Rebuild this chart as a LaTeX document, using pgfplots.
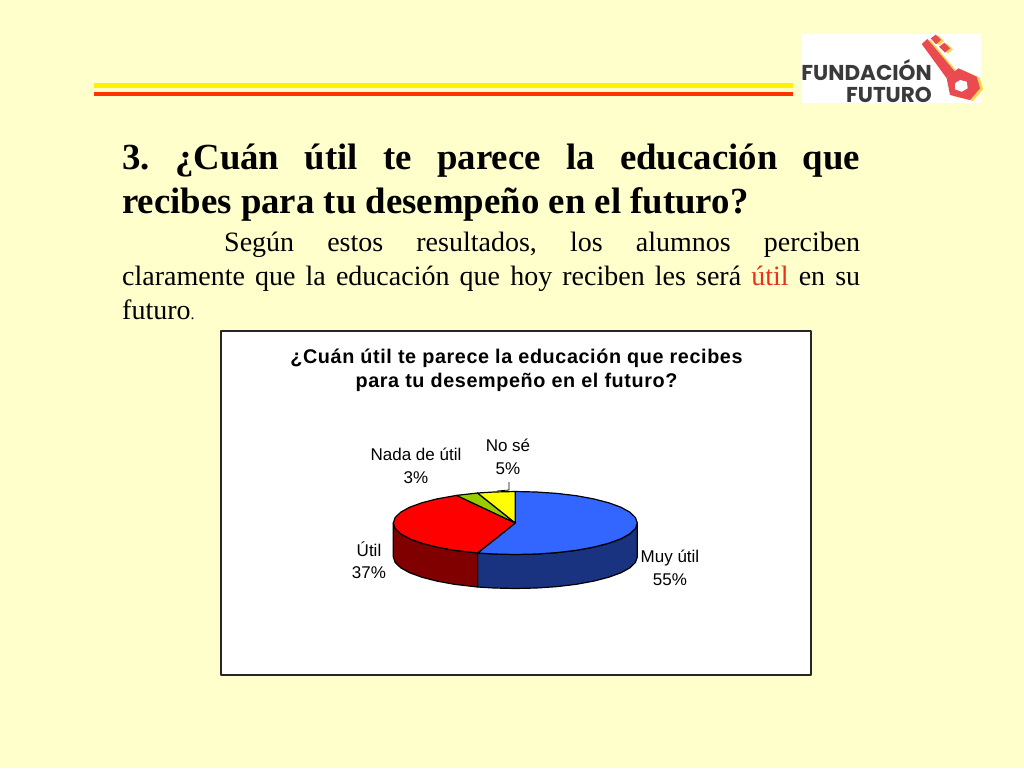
\documentclass[border=0pt]{standalone}
\usepackage{pgfplots}
\pgfplotsset{compat=1.18}
\usepackage{fontspec}
\setmainfont{Liberation Serif}
\newfontfamily\chartfont{Liberation Sans}
\newfontfamily\titlefont[LetterSpace=3]{Liberation Sans}
\newfontfamily\logofont{Poppins}
\definecolor{slidebg}{HTML}{FFFFCC}
\definecolor{muyutil}{HTML}{3366FF}
\definecolor{muyutilside}{HTML}{1A3380}
\definecolor{util}{HTML}{FF0000}
\definecolor{utilside}{HTML}{800000}
\definecolor{nada}{HTML}{99CC00}
\definecolor{nose}{HTML}{FFFF00}
\definecolor{keyred}{HTML}{E94B50}
\definecolor{keyyellow}{HTML}{FFD54A}
\definecolor{logogrey}{HTML}{3A3A3A}
\definecolor{accent}{HTML}{E8301C}
\frenchspacing
\begin{document}
\begin{tikzpicture}
\begin{axis}[
  scale only axis, width=1024pt, height=768pt,
  xmin=0, xmax=1024, ymin=0, ymax=768, y dir=reverse,
  hide axis, no markers, clip=true,
  every axis plot/.append style={forget plot, line join=round},
  pie/.style={draw=black, line width=1.2pt},
  flat/.style={draw=none},
]
% slide background, rules, logo box
\addplot[flat, fill=slidebg] coordinates {(0,0)(1024,0)(1024,768)(0,768)} --cycle;
\addplot[flat, fill=yellow] coordinates {(94,83.3)(793,83.3)(793,87.5)(94,87.5)} --cycle;
\addplot[flat, fill=red!80!yellow] coordinates {(94,91.7)(793,91.7)(793,96)(94,96)} --cycle;
\addplot[flat, fill=white] coordinates {(802,34)(981,34)(981,103)(802,103)} --cycle;

% key
\addplot[flat, fill=keyyellow] coordinates {(924.7,45)(930.3,40)(958,72.7)(949.7,79.3)} --cycle;
\addplot[flat, fill=keyyellow] coordinates {(933.7,39.3)(938.7,35.7)(944,41)(939,45.3)} --cycle;
\addplot[flat, fill=keyyellow] coordinates {(942,47.7)(947.3,43.7)(953,49.3)(948,53.7)} --cycle;
\addplot[flat, fill=keyyellow] coordinates {(949.7,79.3)(961.3,69.3)(979.7,77.7)(983,89.3)(973,101)(953,96)} --cycle;
\addplot[flat, fill=keyred] coordinates {(921.7,44)(927.3,39)(955,71.7)(946.7,78.3)} --cycle;
\addplot[flat, fill=keyred] coordinates {(930.7,38.3)(935.7,34.7)(941,40)(936,44.3)} --cycle;
\addplot[flat, fill=keyred] coordinates {(939,46.7)(944.3,42.7)(950,48.3)(945,52.7)} --cycle;
\addplot[flat, fill=keyred] coordinates {(946.7,78.3)(958.3,68.3)(976.7,76.7)(980,88.3)(970,100)(950,95)} --cycle;
\addplot[flat, fill=white] coordinates {(960,80)(966.7,81.7)(967.7,88.3)(961.7,91.7)(955,89.3)(955,83.3)} --cycle;

% chart frame
\addplot[draw=black!85, line width=1.6pt, fill=white] coordinates {(221,331)(811,331)(811,675)(221,675)} --cycle;

% pie sides
\addplot[pie, fill=muyutilside] coordinates {
  (637.3,523)(635.4,528.5)(629.9,533.8)(621,538.75)(608.8,543.2)(593.7,547.1)
  (576.3,550.3)(557,552.6)(536.5,554)(515.3,554.5)(494.1,554)(477.6,553)
  (477.6,587)(494.1,588)(515.3,588.5)(536.5,588)(557,586.6)(576.3,584.3)
  (593.7,581.1)(608.8,577.2)(621,572.75)(629.9,567.8)(635.4,562.5)(637.3,557)
} --cycle;
\addplot[pie, fill=utilside] coordinates {
  (477.6,553)(454.3,550.3)(436.9,547.1)(421.8,543.2)(409.6,538.75)(400.7,533.8)
  (395.2,528.5)(393.3,523)(393.3,557)(395.2,562.5)(400.7,567.8)(409.6,572.75)
  (421.8,577.2)(436.9,581.1)(454.3,584.3)(477.6,587)
} --cycle;

% pie top: Muy util 55, Util 37, Nada de util 3, No se 5
\addplot[pie, fill=muyutil] coordinates {
  (515.3,523)(515.3,491.5)(536.5,492)(557,493.4)(576.3,495.7)(593.7,498.9)
  (608.8,502.8)(621,507.25)(629.9,512.2)(635.4,517.5)(637.3,523)(635.4,528.5)
  (629.9,533.8)(621,538.75)(608.8,543.2)(593.7,547.1)(576.3,550.3)(557,552.6)
  (536.5,554)(515.3,554.5)(494.1,554)(477.6,553)
} --cycle;
\addplot[pie, fill=util] coordinates {
  (515.3,523)(477.6,553)(454.3,550.3)(436.9,547.1)(421.8,543.2)(409.6,538.75)
  (400.7,533.8)(395.2,528.5)(393.3,523)(395.2,517.5)(400.7,512.2)(409.6,507.25)
  (421.8,502.8)(436.9,498.9)(456.5,495.4)
} --cycle;
\addplot[pie, fill=nada] coordinates {(515.3,523)(456.5,495.4)(477.6,493)} --cycle;
\addplot[pie, fill=nose] coordinates {(515.3,523)(477.6,493)(494.1,492)(515.3,491.5)} --cycle;

% leader line of No se
\addplot[draw=black, line width=0.8pt] coordinates {(509,482)(509,490)(497,491)};

% slide text
\node[anchor=base west, inner sep=0pt, text width=738pt, align=justify,
  font=\fontsize{36.8pt}{44pt}\selectfont\bfseries] at (axis cs:122,169)
  {3. ¿Cuán útil te parece la educación que\linebreak recibes para tu desempeño en el futuro?};
\node[anchor=base west, inner sep=0pt, text width=738pt, align=justify,
  font=\fontsize{28pt}{34pt}\selectfont] at (axis cs:122,251)
  {\hspace*{102pt}Según estos resultados, los alumnos perciben\linebreak claramente que la educación que hoy reciben les será \textcolor{accent}{útil} en su\linebreak futuro{\fontsize{16pt}{16pt}\selectfont .}};

% logo text
\node[anchor=base east, inner sep=0pt, text=logogrey, font=\fontsize{21.5pt}{20pt}\logofont\bfseries] at (axis cs:932,80) {FUNDACIÓN};
\node[anchor=base east, inner sep=0pt, text=logogrey, font=\fontsize{21.5pt}{20pt}\logofont\bfseries] at (axis cs:932,102) {FUTURO};

% chart title and labels
\node[anchor=base, inner sep=0pt, font=\fontsize{19.8pt}{24pt}\titlefont\bfseries] at (axis cs:516.5,363) {¿Cuán útil te parece la educación que recibes};
\node[anchor=base, inner sep=0pt, font=\fontsize{19.8pt}{24pt}\titlefont\bfseries] at (axis cs:516.5,387) {para tu desempeño en el futuro?};
\foreach \lx/\ly/\ltxt in {416/460/Nada de útil, 416/483/3\%, 508/451/No sé, 508/474/5\%, 369/556/Útil, 369/578/37\%, 670/562/Muy útil, 670/585/55\%} {
  \edef\temp{\noexpand\node[anchor=base, inner sep=0pt, font=\noexpand\fontsize{17pt}{20pt}\noexpand\chartfont] at (axis cs:\lx,\ly) {\unexpanded\expandafter{\ltxt}};}
  \temp
}
\end{axis}
\end{tikzpicture}
\end{document}
